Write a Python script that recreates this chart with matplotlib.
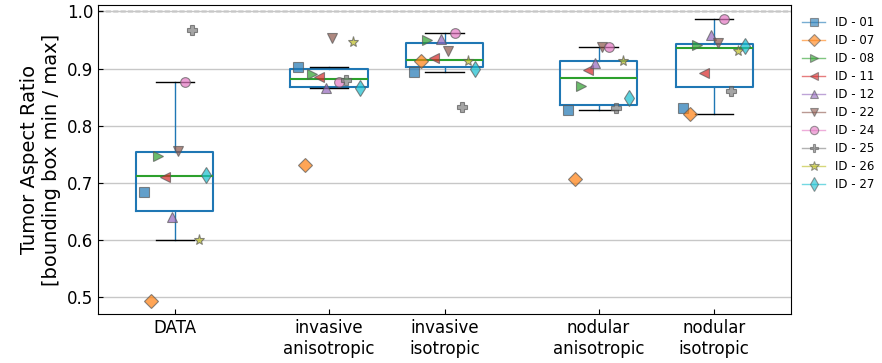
import numpy as np
import matplotlib
matplotlib.use('Agg')
import matplotlib.pyplot as plt
from matplotlib.lines import Line2D

# Aspect ratio per tumour, one list per model, ordered by ID
ids = ['01', '07', '08', '11', '12', '22', '24', '25', '26', '27']
groups = ['DATA', 'invasive\nanisotropic', 'invasive\nisotropic',
          'nodular\nanisotropic', 'nodular\nisotropic']
data_vals = [0.683, 0.493, 0.747, 0.710, 0.640, 0.756, 0.876, 0.967, 0.600, 0.714]
inv_aniso = [0.902, 0.731, 0.890, 0.885, 0.866, 0.954, 0.876, 0.880, 0.947, 0.866]
inv_iso = [0.894, 0.913, 0.950, 0.918, 0.952, 0.931, 0.963, 0.833, 0.913, 0.899]
nod_aniso = [0.827, 0.706, 0.870, 0.898, 0.909, 0.937, 0.938, 0.831, 0.914, 0.849]
nod_iso = [0.830, 0.821, 0.942, 0.892, 0.958, 0.944, 0.986, 0.860, 0.931, 0.940]

values = [data_vals, inv_aniso, inv_iso, nod_aniso, nod_iso]
positions = [0, 4, 7, 11, 14]
markers = ['s', 'D', '>', '<', '^', 'v', 'o', 'P', '*', 'd']
colors = ['C%d' % i for i in range(10)]

fig = plt.figure(figsize=(8.82, 3.63), dpi=100)
ax = fig.add_subplot(111)
fig.subplots_adjust(left=0.111, right=0.897, bottom=0.135, top=0.985)

ax.yaxis.grid(True, color='0.78', lw=1, zorder=0)
ax.axhline(1.0, color='0.35', ls='--', lw=1, zorder=1)

ax.boxplot(values, positions=positions, widths=2, showfliers=False,
           boxprops=dict(color='C0', lw=1.5),
           medianprops=dict(color='C2', lw=1.5),
           whiskerprops=dict(color='C0', lw=1),
           capprops=dict(color='k', lw=1),
           zorder=2)

# spread the IDs side by side inside each box
offsets = np.linspace(-0.8, 0.8, len(ids))
handles = []
for i, pid in enumerate(ids):
    xs = [p + offsets[i] for p in positions]
    ys = [v[i] for v in values]
    ms = 8 if markers[i] in ('d', '*') else 7
    ax.plot(xs, ys, ls='none', marker=markers[i], ms=ms, color=colors[i],
            alpha=0.7, mec='0.35', mew=0.8, zorder=3)
    handles.append(Line2D([], [], color=colors[i], alpha=0.6, lw=1,
                          marker=markers[i], ms=ms - 1, mec='0.35', mew=0.8,
                          label='ID - ' + pid))

ax.set_xlim(-2, 16)
ax.set_ylim(0.47, 1.0105)
ax.set_xticks(positions)
ax.set_xticklabels(groups, fontsize=12)
ax.set_yticks([0.5, 0.6, 0.7, 0.8, 0.9, 1.0])
ax.tick_params(axis='both', direction='in', labelsize=12)
ax.set_ylabel('Tumor Aspect Ratio\n[bounding box min / max]', fontsize=14)

ax.legend(handles=handles, loc='upper left', bbox_to_anchor=(1.0, 1.0),
          frameon=False, fontsize=8.5, labelspacing=0.42)

fig.savefig('out.png', dpi=100)
